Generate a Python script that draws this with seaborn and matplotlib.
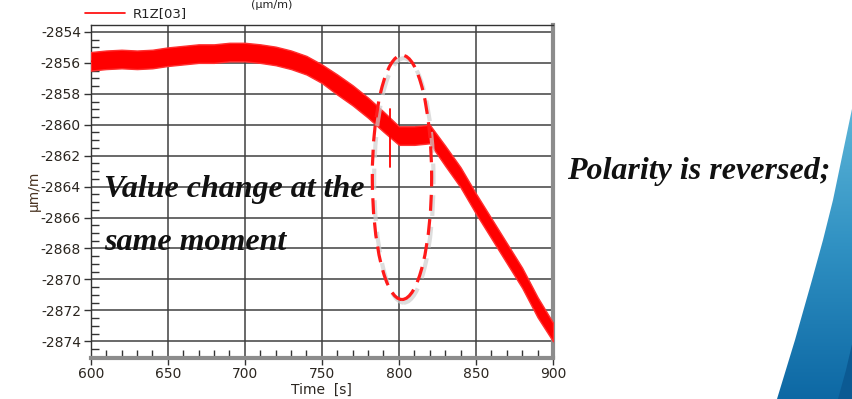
import numpy as np
import pandas as pd
import matplotlib
matplotlib.use("Agg")
import matplotlib.pyplot as plt
from matplotlib.patches import Ellipse, Polygon
from matplotlib.colors import LinearSegmentedColormap
import seaborn as sns

# ---------------- data ----------------
time_s = [600, 610, 620, 630, 640, 650, 660, 670, 680, 690, 700,
          710, 720, 730, 740, 750, 760, 770, 780, 790, 800,
          810, 820, 830, 840, 850, 860, 870, 880, 890, 900]
r1z_center = [-2855.9, -2855.8, -2855.75, -2855.8, -2855.75, -2855.6, -2855.5, -2855.4, -2855.4, -2855.3, -2855.3,
              -2855.4, -2855.55, -2855.8, -2856.15, -2856.7, -2857.4, -2858.1, -2858.9, -2859.8, -2860.7,
              -2860.7, -2860.6, -2862.0, -2863.4, -2865.1, -2866.7, -2868.3, -2869.9, -2871.8, -2873.4]
r1z_upper = [-2855.3, -2855.2, -2855.15, -2855.2, -2855.15, -2855.0, -2854.9, -2854.8, -2854.8, -2854.7, -2854.7,
             -2854.8, -2854.95, -2855.2, -2855.55, -2856.1, -2856.75, -2857.45, -2858.25, -2859.15, -2860.1,
             -2860.1, -2860.0, -2861.35, -2862.75, -2864.45, -2866.05, -2867.65, -2869.25, -2871.15, -2872.8]
r1z_lower = [-2856.5, -2856.4, -2856.35, -2856.4, -2856.35, -2856.2, -2856.1, -2856.0, -2856.0, -2855.9, -2855.9,
             -2856.0, -2856.15, -2856.4, -2856.75, -2857.3, -2858.05, -2858.75, -2859.55, -2860.45, -2861.3,
             -2861.3, -2861.2, -2862.65, -2864.05, -2865.75, -2867.35, -2868.95, -2870.55, -2872.45, -2874.0]
spike_time = [794, 794]
spike_value = [-2858.95, -2862.7]

series_label = "R1Z[03]"
x_ticks = [600, 650, 700, 750, 800, 850, 900]
y_ticks = [-2874, -2872, -2870, -2868, -2866, -2864, -2862, -2860, -2858, -2856, -2854]

# ---------------- figure ----------------
sns.set_theme(style="white")
plt.rcParams['font.family'] = ['DejaVu Sans']
plt.rcParams['axes.unicode_minus'] = False

W, H = 853, 399
fig = plt.figure(figsize=(W / 100, H / 100), dpi=100)
fig.patch.set_facecolor("white")

def fx(px):
    return px / W

def fy(py):
    return 1 - py / H

# blue decoration at right
deco = fig.add_axes([0, 0, 1, 1], zorder=0)
deco.set_xlim(0, W)
deco.set_ylim(H, 0)
deco.axis("off")
grad = np.linspace(0, 1, 256).reshape(-1, 1)
cmap = LinearSegmentedColormap.from_list("bl", ["#5fb7d9", "#2f90c2", "#0d68a4"])
im = deco.imshow(grad, extent=[760, W, H, 100], cmap=cmap, aspect="auto", zorder=0)
shape = Polygon([(853, 104), (843, 152), (833, 200), (823, 240), (812, 280),
                 (795, 340), (777, 399), (853, 399)], closed=True, transform=deco.transData,
                facecolor="none", edgecolor="none")
deco.add_patch(shape)
im.set_clip_path(shape)
dark = Polygon([(853, 340), (846, 370), (838, 399), (853, 399)], closed=True,
               facecolor="#0b5a93", edgecolor="none", zorder=1)
deco.add_patch(dark)

# main axes
ax = fig.add_axes([fx(90.7), fy(357.5), fx(553) - fx(90.7), fy(25) - fy(357.5)], zorder=2)
ax.set_facecolor("white")

df = pd.DataFrame({"t": time_s, "v": r1z_center})
ax.fill_between(time_s, r1z_lower, r1z_upper, color="#ff0000", lw=1.0, edgecolor="#ff3030", zorder=3)
sns.lineplot(data=df, x="t", y="v", ax=ax, color="#ff0000", lw=1.2, label=series_label, zorder=4)
sns.lineplot(x=spike_time, y=spike_value, ax=ax, color="#ff0000", lw=1.3, zorder=4,
             estimator=None, sort=False)

ax.set_xlim(600, 900)
ax.set_ylim(-2875.05, -2853.55)
ax.set_xticks(x_ticks)
ax.set_yticks(y_ticks)
ax.set_xticks(np.arange(600, 901, 10), minor=True)
ax.set_yticks(np.arange(-2875, -2853.5, 0.5), minor=True)
ax.grid(True, which="major", color="#404040", lw=1.1)
ax.set_axisbelow(True)
ax.tick_params(which="major", direction="out", length=5, width=1, color="#333333",
               labelsize=10, labelcolor="#2b2620", left=True, bottom=True, pad=2)
ax.tick_params(which="minor", direction="in", length=6, width=1, color="#333333",
               left=True, bottom=True)
for s in ["top", "left"]:
    ax.spines[s].set_color("#333333")
    ax.spines[s].set_linewidth(1.0)
for s in ["bottom", "right"]:
    ax.spines[s].set_color("#8c8c8c")
    ax.spines[s].set_linewidth(3.0)

ax.set_xlabel("Time  [s]", fontsize=10, color="#2b2620", labelpad=1)
ax.set_ylabel("μm/m", fontsize=10, color="#4a3422", labelpad=0)

leg = ax.legend(loc="center left", bbox_to_anchor=(fx(85), fy(14)), bbox_transform=fig.transFigure,
                frameon=False, fontsize=9.5, handlelength=3.0, handletextpad=0.6,
                borderpad=0, borderaxespad=0)
for t in leg.get_texts():
    t.set_color("#222222")
for h in leg.get_lines():
    h.set_linewidth(1.2)

# dashed ellipse highlighting the change
shadow = Ellipse((803.2, -2863.6), 38.5, 15.8, fill=False, edgecolor="#cfcfcf", lw=3.0,
                 ls=(0, (5, 2.6)), zorder=5, clip_on=False, alpha=0.7)
ax.add_patch(shadow)
ell = Ellipse((802, -2863.4), 38.5, 15.8, fill=False, edgecolor="#ff1a1a", lw=2.3,
              ls=(0, (5, 2.6)), zorder=6, clip_on=False)
ax.add_patch(ell)

# annotations
tkw = dict(family=["Liberation Serif", "DejaVu Serif"], style="italic", weight="bold",
           fontsize=23, color="#111111", va="center", ha="left", zorder=10)
fig.text(fx(104), fy(190), "Value change at the", **tkw)
fig.text(fx(104), fy(243), "same moment", **tkw)
fig.text(fx(567), fy(172), "Polarity is reversed;", **tkw)

fig.text(fx(272), 1.0, "(μm/m)", fontsize=8, color="#222222", ha="center", va="top")

fig.savefig("out.png", dpi=100, facecolor="white")
